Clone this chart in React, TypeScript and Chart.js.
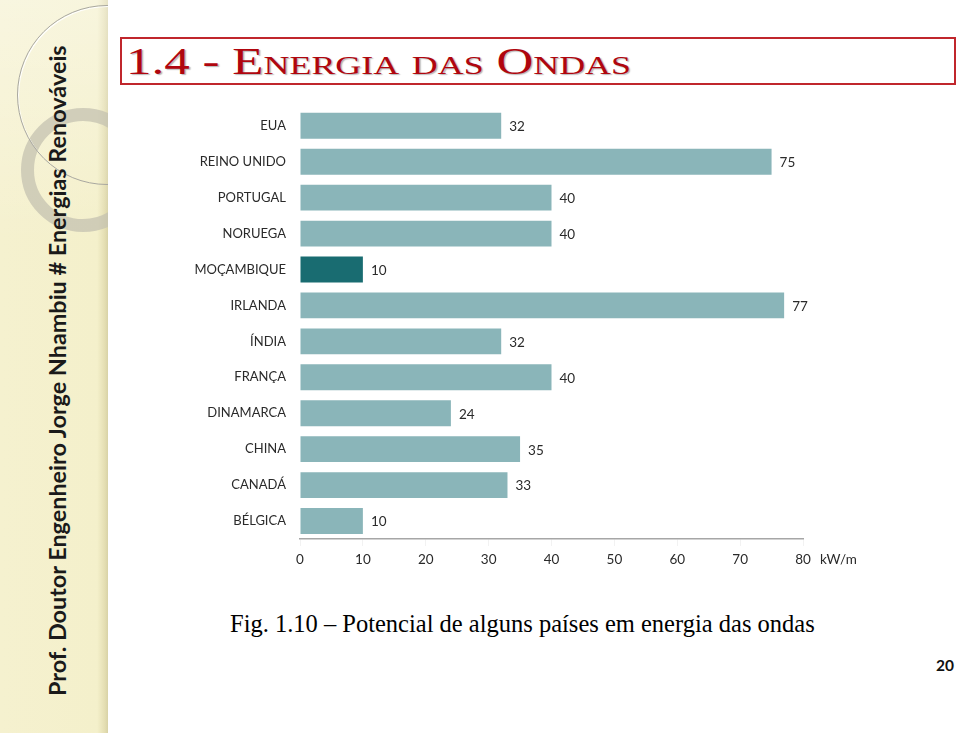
import React, { useEffect, useRef } from "react";
import { Chart, registerables } from "chart.js";

Chart.register(...registerables);

const categories = [
  "EUA",
  "REINO UNIDO",
  "PORTUGAL",
  "NORUEGA",
  "MOÇAMBIQUE",
  "IRLANDA",
  "ÍNDIA",
  "FRANÇA",
  "DINAMARCA",
  "CHINA",
  "CANADÁ",
  "BÉLGICA",
];
const values = [32, 75, 40, 40, 10, 77, 32, 40, 24, 35, 33, 10];
const highlighted = "MOÇAMBIQUE";
const xTicks = [0, 10, 20, 30, 40, 50, 60, 70, 80];
const unitLabel = "kW/m";

const LIGHT = "#8ab5b9";
const DARK = "#196c71";
const FONT = "Lato, 'Open Sans', sans-serif";

export default function App() {
  const ref = useRef<HTMLCanvasElement | null>(null);

  useEffect(() => {
    if (!ref.current) return;
    const valueLabels = {
      id: "valueLabels",
      afterDatasetsDraw(chart: any) {
        const ctx = chart.ctx;
        const meta = chart.getDatasetMeta(0);
        ctx.save();
        ctx.font = `13.5px ${FONT}`;
        ctx.fillStyle = "#2a2a2a";
        ctx.textAlign = "left";
        ctx.textBaseline = "middle";
        meta.data.forEach((bar: any, i: number) => {
          ctx.fillText(String(values[i]), bar.x + 8, bar.y + 1);
        });
        const xs = chart.scales.x;
        ctx.fillText(unitLabel, xs.right + 17, xs.top + 21);
        ctx.restore();
      },
    };
    const chart = new Chart(ref.current, {
      type: "bar",
      data: {
        labels: categories,
        datasets: [
          {
            data: values,
            backgroundColor: categories.map((c) => (c === highlighted ? DARK : LIGHT)),
            borderWidth: 0,
            categoryPercentage: 1,
            barPercentage: 0.72,
          },
        ],
      },
      options: {
        indexAxis: "y",
        responsive: false,
        animation: false,
        devicePixelRatio: 1,
        layout: { padding: { top: 7, right: 77, left: 0, bottom: 0 } },
        plugins: { legend: { display: false }, tooltip: { enabled: false } },
        scales: {
          x: {
            min: 0,
            max: 80,
            afterFit: (s: any) => {
              s.height = 40;
            },
            afterBuildTicks: (s: any) => {
              s.ticks = xTicks.map((v) => ({ value: v }));
            },
            grid: {
              drawOnChartArea: false,
              drawTicks: true,
              tickLength: 7,
              color: "#f2f2f2",
            },
            border: { display: true, color: "#a6a6a6", width: 1.5 },
            ticks: {
              font: { family: FONT, size: 13.5 },
              color: "#2a2a2a",
              padding: 6,
              maxRotation: 0,
            },
          },
          y: {
            afterFit: (s: any) => {
              s.width = 110;
            },
            grid: { display: false, drawTicks: false },
            border: { display: false },
            ticks: {
              font: { family: FONT, size: 13 },
              color: "#2a2a2a",
              padding: 14,
            },
          },
        },
      },
      plugins: [valueLabels],
    });
    return () => chart.destroy();
  }, []);

  return (
    <div
      style={{
        position: "absolute",
        left: 0,
        top: 0,
        width: 959,
        height: 733,
        background: "#fff",
        overflow: "hidden",
      }}
    >
      <div
        style={{
          position: "absolute",
          left: 0,
          top: 0,
          width: 108,
          height: 733,
          overflow: "hidden",
          background:
            "linear-gradient(to right, #f5f1cf 0%, #f4f0cb 90%, #e4deb2 97%, #d8d2a6 100%)",
        }}
      >
        <div
          style={{
            position: "absolute",
            left: 0,
            top: 0,
            width: 108,
            height: 240,
            background: "linear-gradient(to bottom, rgba(255,255,255,0.35), rgba(255,255,255,0))",
          }}
        />
        <div
          style={{
            position: "absolute",
            left: 21,
            top: 108,
            width: 98,
            height: 98,
            borderRadius: "50%",
            border: "13px solid rgba(196,194,176,0.75)",
          }}
        />
        <div
          style={{
            position: "absolute",
            left: 17,
            top: 5,
            width: 178,
            height: 178,
            borderRadius: "50%",
            border: "1.5px solid #a9a8a0",
            boxShadow: "inset 1px 1px 0 rgba(255,255,255,0.9)",
          }}
        />
        <div
          style={{
            position: "absolute",
            left: 43,
            top: 696,
            height: 28,
            lineHeight: "28px",
            transformOrigin: "0 0",
            transform: "rotate(-90deg)",
            whiteSpace: "nowrap",
            fontFamily: FONT,
            fontWeight: 700,
            fontSize: 23.4,
            color: "#1a1a1a",
          }}
        >
          Prof. Doutor Engenheiro Jorge Nhambiu # Energias Renováveis
        </div>
      </div>

      <div
        style={{
          position: "absolute",
          left: 120,
          top: 37,
          width: 832,
          height: 44,
          border: "2px solid #c0262c",
          boxSizing: "content-box",
        }}
      />
      <div
        style={{
          position: "absolute",
          left: 126,
          top: 40,
          height: 44,
          lineHeight: "44px",
          fontFamily: "'Liberation Serif', 'Times New Roman', serif",
          fontVariant: "small-caps",
          fontSize: 37,
          color: "#b0060e",
          whiteSpace: "nowrap",
          textShadow: "1px 1px 1px rgba(0,0,0,0.3)",
          transformOrigin: "0 50%",
          transform: "scaleX(1.38)",
        }}
      >
        1.4 - Energia das Ondas
      </div>

      <canvas
        ref={ref}
        width={690}
        height={493}
        style={{ position: "absolute", left: 190, top: 86, width: 690, height: 493 }}
      />

      <div
        style={{
          position: "absolute",
          left: 230,
          top: 609,
          lineHeight: "30px",
          fontFamily: "'Liberation Serif', 'Times New Roman', serif",
          fontSize: 24.5,
          color: "#000",
          whiteSpace: "nowrap",
        }}
      >
        Fig. 1.10 – Potencial de alguns países em energia das ondas
      </div>

      <div
        style={{
          position: "absolute",
          left: 936,
          top: 655,
          lineHeight: "20px",
          fontFamily: FONT,
          fontWeight: 700,
          fontSize: 15.5,
          color: "#111",
        }}
      >
        20
      </div>
    </div>
  );
}
